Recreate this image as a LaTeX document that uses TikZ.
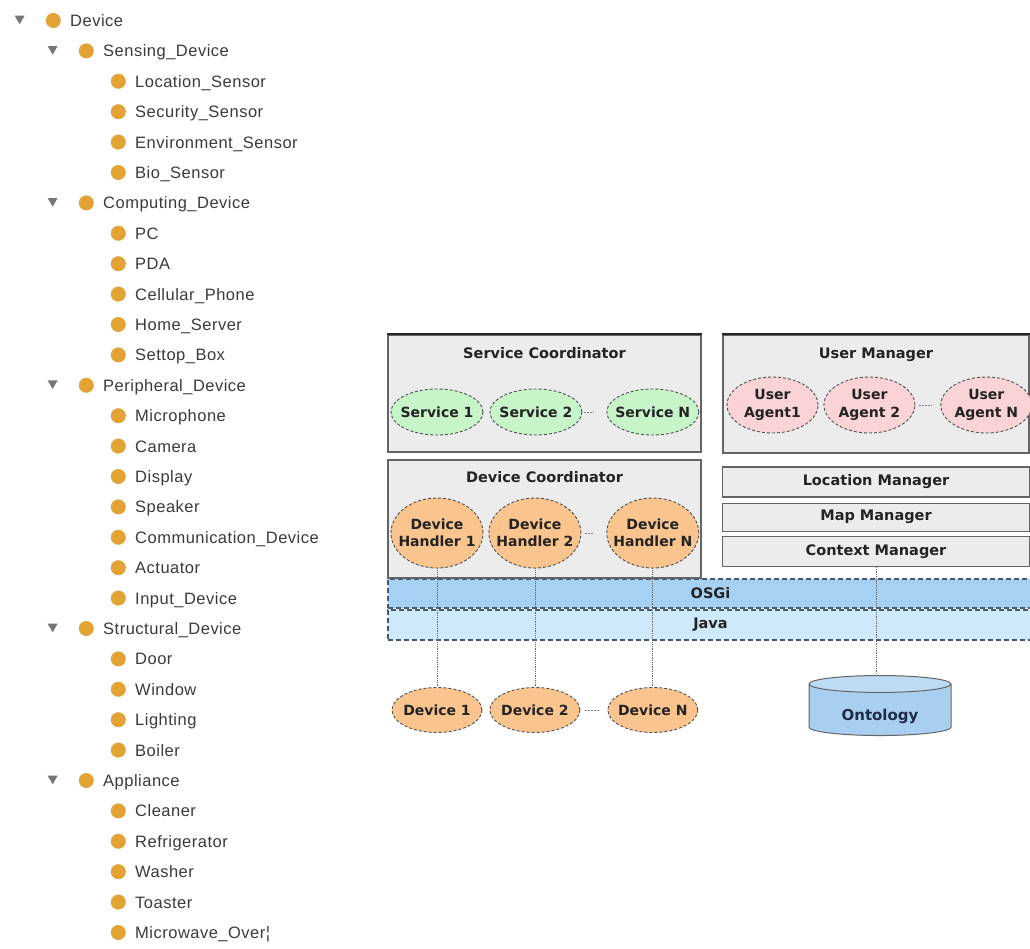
\documentclass[tikz,border=0pt]{standalone}
\usepackage{fontspec}
\setmainfont{Liberation Sans}
\newfontfamily\treefont[LetterSpace=3]{Liberation Sans}
\newfontfamily\diagfont{DejaVu Sans}
\usetikzlibrary{shapes.geometric, positioning}

\definecolor{dotorange}{RGB}{226,162,52}
\definecolor{trigray}{RGB}{118,118,118}
\definecolor{treetext}{RGB}{58,58,58}
\definecolor{boxgray}{RGB}{236,236,236}
\definecolor{boxline}{RGB}{100,100,100}
\definecolor{servgreen}{RGB}{200,244,202}
\definecolor{agentpink}{RGB}{249,211,214}
\definecolor{handorange}{RGB}{249,196,142}
\definecolor{osgiblue}{RGB}{166,209,242}
\definecolor{javablue}{RGB}{206,233,250}
\definecolor{bandline}{RGB}{66,88,116}
\definecolor{ontoblue}{RGB}{168,207,240}
\definecolor{ontotext}{RGB}{30,44,72}
\definecolor{txtdark}{RGB}{35,35,35}

\begin{document}
\begin{tikzpicture}[x=1pt, y=-1pt,
    treeitem/.style={anchor=west, inner sep=0pt, text height=12pt, text depth=0pt,
        font=\treefont\fontsize{16.5}{18}\selectfont, text=treetext, label={[bullet]left:{}}},
    treegroup/.style={treeitem, label={[opener]left:{}}},
    bullet/.style={circle, fill=dotorange, minimum size=15pt, inner sep=0pt,
        text height=0pt, text depth=0pt, xshift=-9pt},
    opener/.style={regular polygon, regular polygon sides=3, shape border rotate=180,
        fill=trigray, minimum size=11.5pt, inner sep=0pt, text height=0pt, text depth=0pt,
        xshift=-46.8pt, yshift=2pt},
    layerbox/.style={rectangle, draw=boxline, fill=boxgray, line width=1.2pt, inner sep=0pt},
    topedge/.style={draw=black!85, line width=2pt},
    stackbox/.style={layerbox, minimum width=307pt, text=txtdark,
        font={\diagfont\bfseries\fontsize{14.5}{16}\selectfont}},
    boxtitle/.style={inner sep=0pt, text height=11pt, text depth=0pt, text=txtdark,
        font={\diagfont\bfseries\fontsize{14.5}{16}\selectfont}},
    oval/.style={ellipse, draw=boxline!80!black, densely dashed, line width=0.9pt,
        inner xsep=-10pt, inner ysep=0pt, minimum width=92pt, align=center, text=txtdark,
        font={\diagfont\bfseries\fontsize{14}{17.5}\selectfont}},
    service/.style={oval, fill=servgreen, minimum height=46pt},
    agent/.style={oval, fill=agentpink, minimum width=91pt, minimum height=56pt},
    handler/.style={oval, fill=handorange, minimum height=70pt},
    device/.style={oval, fill=handorange, minimum width=90pt, minimum height=45pt},
    band/.style={rectangle, draw=bandline, line width=1.8pt, dash pattern=on 5pt off 3pt,
        inner sep=0pt, minimum width=645pt, text=txtdark,
        font={\diagfont\bfseries\fontsize{14.5}{16}\selectfont}},
    gapdots/.style={draw=gray, line width=0.9pt, dash pattern=on 1.5pt off 1.5pt},
    link/.style={draw=gray!80!black, densely dotted, line width=0.8pt}]

    \useasboundingbox (0,0) rectangle (1030,949);

    % Ontology tree
    \node[treegroup] (device) at (70,20.5) {Device};
    \node[treegroup] (sensing) at (103,50.9) {Sensing\_Device};
    \node[treeitem] (locsensor) at (135,81.3) {Location\_Sensor};
    \node[treeitem] (secsensor) at (135,111.7) {Security\_Sensor};
    \node[treeitem] (envsensor) at (135,142.1) {Environment\_Sensor};
    \node[treeitem] (biosensor) at (135,172.5) {Bio\_Sensor};
    \node[treegroup] (computing) at (103,202.9) {Computing\_Device};
    \node[treeitem] (pc) at (135,233.3) {PC};
    \node[treeitem] (pda) at (135,263.7) {PDA};
    \node[treeitem] (cellular) at (135,294.1) {Cellular\_Phone};
    \node[treeitem] (homeserver) at (135,324.5) {Home\_Server};
    \node[treeitem] (settop) at (135,354.9) {Settop\_Box};
    \node[treegroup] (peripheral) at (103,385.3) {Peripheral\_Device};
    \node[treeitem] (microphone) at (135,415.7) {Microphone};
    \node[treeitem] (camera) at (135,446.1) {Camera};
    \node[treeitem] (display) at (135,476.5) {Display};
    \node[treeitem] (speaker) at (135,506.9) {Speaker};
    \node[treeitem] (commdevice) at (135,537.3) {Communication\_Device};
    \node[treeitem] (actuator) at (135,567.7) {Actuator};
    \node[treeitem] (inputdevice) at (135,598.1) {Input\_Device};
    \node[treegroup] (structural) at (103,628.5) {Structural\_Device};
    \node[treeitem] (door) at (135,658.9) {Door};
    \node[treeitem] (window) at (135,689.3) {Window};
    \node[treeitem] (lighting) at (135,719.7) {Lighting};
    \node[treeitem] (boiler) at (135,750.1) {Boiler};
    \node[treegroup] (appliance) at (103,780.5) {Appliance};
    \node[treeitem] (cleaner) at (135,810.9) {Cleaner};
    \node[treeitem] (fridge) at (135,841.3) {Refrigerator};
    \node[treeitem] (washer) at (135,871.7) {Washer};
    \node[treeitem] (toaster) at (135,902.1) {Toaster};
    \node[treeitem] (microwave) at (135,932.5) {Microwave\_Over¦};

    % Platform layers
    \node[band, fill=osgiblue, minimum height=29pt] (osgi) at (710.5,593.5) {OSGi};
    \node[band, fill=javablue, minimum height=30pt, below=0pt of osgi] (java) {Java};

    % Service coordinator
    \node[layerbox, minimum width=313pt, minimum height=117pt] (servcoord) at (544.5,393.5) {};
    \draw[topedge] (servcoord.north west) -- (servcoord.north east);
    \node[boxtitle, below=12.5pt of servcoord.north] (servtitle) {Service Coordinator};
    \node[service] (serv1) at (437,412) {Service 1};
    \node[service, right=6pt of serv1] (serv2) {Service 2};
    \node[service, right=24pt of serv2] (servn) {Service N};

    % User manager
    \node[layerbox, minimum width=306pt, minimum height=118pt] (usermgr) at (876,394) {};
    \draw[topedge] (usermgr.north west) -- (usermgr.north east);
    \node[boxtitle, below=12.5pt of usermgr.north] (usertitle) {User Manager};
    \node[agent] (agent1) at (772.5,405) {User\\Agent1};
    \node[agent, right=5pt of agent1] (agent2) {User\\Agent 2};
    \node[agent, right=25pt of agent2] (agentn) {User\\Agent N};

    % Device coordinator
    \node[layerbox, minimum width=313pt, minimum height=118pt] (devcoord) at (544.5,519) {};
    \node[boxtitle, below=11.5pt of devcoord.north] (devtitle) {Device Coordinator};
    \node[handler] (hand1) at (437,533) {Device\\Handler 1};
    \node[handler, right=5pt of hand1] (hand2) {Device\\Handler 2};
    \node[handler, right=25pt of hand2] (handn) {Device\\Handler N};

    % Managers
    \node[stackbox, minimum height=30pt] (locmgr) at (876,482) {Location Manager};
    \node[stackbox, minimum height=28pt, below=5pt of locmgr] (mapmgr) {Map Manager};
    \node[stackbox, minimum height=30pt, below=4pt of mapmgr] (ctxmgr) {Context Manager};

    % Devices and ontology
    \node[device] (dev1) at (437,710) {Device 1};
    \node[device, right=7pt of dev1] (dev2) {Device 2};
    \node[device, right=27pt of dev2] (devn) {Device N};
    \node[cylinder, shape border rotate=90, aspect=0.22, draw=boxline, line width=1pt,
        cylinder uses custom fill, cylinder body fill=ontoblue, cylinder end fill=ontoblue!75,
        minimum width=142pt, minimum height=60pt, inner sep=0pt, text=ontotext,
        text height=20pt, text depth=0pt,
        font={\diagfont\bfseries\fontsize{15}{16}\selectfont}] (onto) at (880,710) {Ontology};

    % Ellipsis marks
    \draw[gapdots, shorten <=2pt, shorten >=12pt] (serv2) -- (servn);
    \draw[gapdots, shorten <=4pt, shorten >=8pt] (agent2) -- (agentn);
    \draw[gapdots, shorten <=4pt, shorten >=12pt] (hand2) -- (handn);
    \draw[gapdots, shorten <=5pt, shorten >=7pt] (dev2) -- (devn);

    % Connections
    \draw[link] (hand1.south) -- (hand1.south |- dev1.north);
    \draw[link] (hand2.south) -- (hand2.south |- dev2.north);
    \draw[link] (handn.south) -- (handn.south |- devn.north);
    \draw[link] (ctxmgr.south) -- (ctxmgr.south |- onto.north);
\end{tikzpicture}
\end{document}
